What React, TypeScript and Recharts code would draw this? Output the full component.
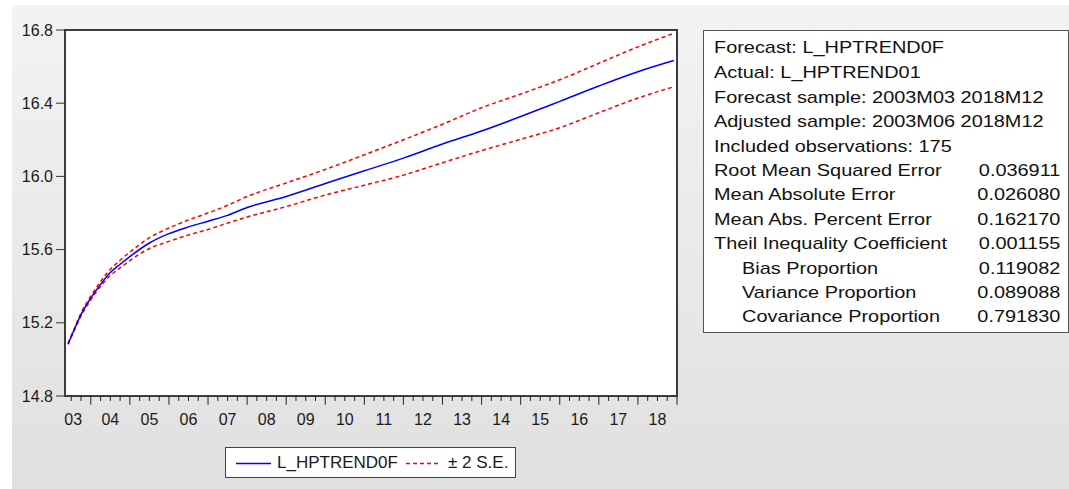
import { LineChart, Line, XAxis, YAxis, ReferenceLine } from 'recharts';

// time as fractional year (year + (month-1)/12)
const times = [2003.42, 2003.58, 2003.75, 2004.0, 2004.25, 2004.5, 2004.75, 2005.0, 2005.5, 2006.0, 2006.5, 2007.0, 2007.5, 2008.0, 2009.0, 2010.0, 2011.0, 2012.0, 2013.0, 2014.0, 2015.0, 2016.0, 2017.0, 2018.0, 2018.92];
const forecast = [15.085, 15.165, 15.245, 15.335, 15.41, 15.475, 15.52, 15.562, 15.636, 15.687, 15.724, 15.755, 15.787, 15.83, 15.89, 15.961, 16.031, 16.1, 16.177, 16.248, 16.327, 16.41, 16.494, 16.572, 16.633];
const upper = [15.088, 15.17, 15.253, 15.345, 15.425, 15.492, 15.542, 15.586, 15.665, 15.718, 15.762, 15.8, 15.842, 15.89, 15.964, 16.038, 16.118, 16.2, 16.285, 16.375, 16.45, 16.528, 16.618, 16.708, 16.782];
const lower = [15.082, 15.16, 15.238, 15.325, 15.4, 15.458, 15.5, 15.54, 15.606, 15.645, 15.68, 15.71, 15.745, 15.778, 15.835, 15.898, 15.952, 16.007, 16.075, 16.141, 16.203, 16.266, 16.348, 16.428, 16.49];

const yTicks = [14.8, 15.2, 15.6, 16.0, 16.4, 16.8];
const yearLabels = ['03', '04', '05', '06', '07', '08', '09', '10', '11', '12', '13', '14', '15', '16', '17', '18'];
const labelPos = [2003.55, 2004.5, 2005.5, 2006.5, 2007.5, 2008.5, 2009.5, 2010.5, 2011.5, 2012.5, 2013.5, 2014.5, 2015.5, 2016.5, 2017.5, 2018.5];

const statsRows: [string, string, boolean][] = [
  ['Forecast: L_HPTREND0F', '', false],
  ['Actual: L_HPTREND01', '', false],
  ['Forecast sample: 2003M03 2018M12', '', false],
  ['Adjusted sample: 2003M06 2018M12', '', false],
  ['Included observations: 175', '', false],
  ['Root Mean Squared Error', '0.036911', false],
  ['Mean Absolute Error', '0.026080', false],
  ['Mean Abs. Percent Error', '0.162170', false],
  ['Theil Inequality Coefficient', '0.001155', false],
  ['Bias Proportion', '0.119082', true],
  ['Variance Proportion', '0.089088', true],
  ['Covariance Proportion', '0.791830', true],
];

const data = times.map((t, i) => ({ t, f: forecast[i], u: upper[i], l: lower[i] }));

// quarterly tick marks below the frame; year boundaries get a longer mark
const quarterTicks: number[] = [];
for (let q = 2003.5; q <= 2019.001; q += 0.25) quarterTicks.push(Math.round(q * 100) / 100);
const isYear = (v: number) => Math.abs(v - Math.round(v)) < 1e-6;

const FONT = '"Liberation Sans", Arial, sans-serif';

const LabelTick = (props: any) => {
  const { x, y, index } = props;
  return (
    <text x={x} y={Number(y)} dy={17} textAnchor="middle" fontSize={16} fill="#1a1a1a" fontFamily={FONT}>
      {yearLabels[index] ?? ''}
    </text>
  );
};

export default function App() {
  return (
    <div style={{ position: 'absolute', left: 0, top: 0, width: 1069, height: 489, background: '#fff', overflow: 'hidden', fontFamily: FONT }}>
      <div style={{ position: 'absolute', left: 12, top: 5, width: 1057, height: 484, background: 'linear-gradient(#f3f3f3, #e0e0e0)' }} />
      {/* plot frame */}
      <div style={{ position: 'absolute', left: 64, top: 29, width: 614, height: 368, boxSizing: 'border-box', border: '2px solid #3c3c3c', background: '#fff' }} />
      <div style={{ position: 'absolute', left: 0, top: 0 }}>
        <LineChart width={700} height={489} data={data} margin={{ top: 30, right: 23, left: 10, bottom: 63 }}>
          <XAxis
            dataKey="t"
            type="number"
            domain={[2003.34, 2019.0]}
            allowDataOverflow
            ticks={labelPos}
            interval={0}
            height={30}
            tickSize={0}
            tickMargin={12}
            axisLine={false}
            tickLine={false}
            tick={LabelTick}
          />
          <YAxis
            type="number"
            domain={[14.8, 16.8]}
            allowDataOverflow
            ticks={yTicks}
            interval={0}
            width={55}
            tickSize={9}
            tickMargin={3}
            axisLine={false}
            tickLine={{ stroke: '#333' }}
            tickFormatter={(v: number) => v.toFixed(1)}
            tick={{ fontSize: 16, fill: '#1a1a1a', fontFamily: FONT }}
          />
          {quarterTicks.map((q) => (
            <ReferenceLine
              key={q}
              ifOverflow="visible"
              segment={[{ x: q, y: 14.8 }, { x: q, y: isYear(q) ? 14.752 : 14.773 }]}
              stroke="#222"
              strokeWidth={1}
            />
          ))}
          <Line type="monotone" dataKey="u" stroke="#ff0000" strokeWidth={1.5} strokeDasharray="4 3" dot={false} isAnimationActive={false} />
          <Line type="monotone" dataKey="l" stroke="#ff0000" strokeWidth={1.5} strokeDasharray="4 3" dot={false} isAnimationActive={false} />
          <Line type="monotone" dataKey="f" stroke="#0000ff" strokeWidth={1.5} dot={false} isAnimationActive={false} />
        </LineChart>
      </div>

      {/* legend */}
      <div style={{ position: 'absolute', left: 225, top: 447, width: 291, height: 31, boxSizing: 'border-box', border: '1px solid #444', background: '#fff', fontSize: 17, color: '#1a1a1a' }}>
        <svg style={{ position: 'absolute', left: 10, top: 14 }} width={35} height={3}>
          <line x1={0} x2={35} y1={1.5} y2={1.5} stroke="#0000ff" strokeWidth={1.5} />
        </svg>
        <span style={{ position: 'absolute', left: 51, top: 5, lineHeight: '20px' }}>L_HPTREND0F</span>
        <svg style={{ position: 'absolute', left: 180, top: 14 }} width={35} height={3}>
          <line x1={0} x2={35} y1={1.5} y2={1.5} stroke="#ff0000" strokeWidth={1.5} strokeDasharray="4 3" />
        </svg>
        <span style={{ position: 'absolute', left: 222, top: 5, lineHeight: '20px' }}>± 2 S.E.</span>
      </div>

      {/* statistics box */}
      <div style={{ position: 'absolute', left: 703, top: 30, width: 366, height: 303, boxSizing: 'border-box', border: '1px solid #555', background: '#fff' }}>
        <div style={{ position: 'absolute', left: 10, top: 5, width: 296, transform: 'scaleX(1.17)', transformOrigin: 'left top', fontSize: 17, lineHeight: '24.4px', color: '#111' }}>
          {statsRows.map(([label, value, indent], i) => (
            <div key={i} style={{ display: 'flex', justifyContent: 'space-between', whiteSpace: 'nowrap', marginTop: i === 1 ? 1 : 0 }}>
              <span style={{ paddingLeft: indent ? 24 : 0 }}>{label}</span>
              <span>{value}</span>
            </div>
          ))}
        </div>
      </div>
    </div>
  );
}
